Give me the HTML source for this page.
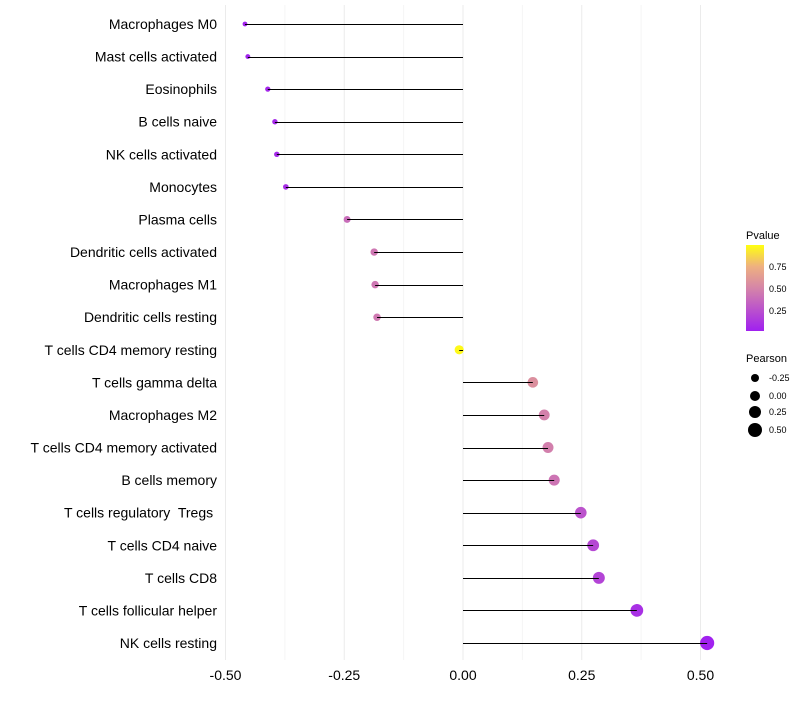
<!DOCTYPE html>
<html><head><meta charset="utf-8"><style>
body{margin:0;background:#fff;font-family:"Liberation Sans",sans-serif}
svg text{font-family:"Liberation Sans",sans-serif}
</style></head><body>
<svg id="chart" width="800" height="700" viewBox="0 0 800 700" xmlns="http://www.w3.org/2000/svg">
<defs><linearGradient id="pg" x1="0" y1="1" x2="0" y2="0">
<stop offset="0" stop-color="#a020f0"/><stop offset="0.5" stop-color="#d585a8"/><stop offset="0.75" stop-color="#eeb080"/><stop offset="1" stop-color="#ffff10"/></linearGradient></defs>
<g id="grid"></g>
<g id="marks"></g>
<g id="labels"></g>
<g>
<text x="746" y="239" font-size="11">Pvalue</text>
<rect x="746" y="245" width="18" height="86" fill="url(#pg)"/>
<text x="769" y="270" font-size="9">0.75</text>
<text x="769" y="292" font-size="9">0.50</text>
<text x="769" y="314" font-size="9">0.25</text>
</g>
<g>
<text x="746" y="362" font-size="11">Pearson</text>
<circle cx="755" cy="378" r="4" fill="#000"/>
<circle cx="755" cy="396" r="5" fill="#000"/>
<circle cx="755" cy="412" r="6" fill="#000"/>
<circle cx="755" cy="430" r="7" fill="#000"/>
<text x="769" y="381" font-size="9">-0.25</text>
<text x="769" y="399" font-size="9">0.00</text>
<text x="769" y="415" font-size="9">0.25</text>
<text x="769" y="433" font-size="9">0.50</text>
</g>
</svg>
<script>
const categories=["Macrophages M0","Mast cells activated","Eosinophils","B cells naive","NK cells activated","Monocytes","Plasma cells","Dendritic cells activated","Macrophages M1","Dendritic cells resting","T cells CD4 memory resting","T cells gamma delta","Macrophages M2","T cells CD4 memory activated","B cells memory","T cells regulatory  Tregs\u00a0","T cells CD4 naive","T cells CD8","T cells follicular helper","NK cells resting"];
const pearson=[-0.459,-0.453,-0.411,-0.396,-0.392,-0.373,-0.244,-0.187,-0.185,-0.181,-0.008,0.147,0.171,0.179,0.192,0.248,0.274,0.286,0.366,0.514];
const pvalues=[0.02,0.02,0.04,0.05,0.05,0.07,0.38,0.43,0.43,0.44,0.98,0.56,0.48,0.47,0.42,0.25,0.2,0.18,0.08,0.01];
const xTicks=[-0.5,-0.25,0,0.25,0.5];
const xTickLabels=["-0.50","-0.25","0.00","0.25","0.50"];
const NS="http://www.w3.org/2000/svg";
const x=v=>463+v*475;
const y=i=>24+i*(643-24)/19;
const rad=v=>2.4+(v+0.46)*4.8;
function lerp(a,b,t){return a.map((c,k)=>Math.round(c+(b[k]-c)*t));}
function col(p){const s=[[0,[160,32,240]],[0.5,[213,133,168]],[0.75,[238,176,128]],[1,[255,255,16]]];
for(let k=1;k<s.length;k++){if(p<=s[k][0]){const t=(p-s[k-1][0])/(s[k][0]-s[k-1][0]);return 'rgb('+lerp(s[k-1][1],s[k][1],t).join(',')+')';}}return 'rgb(255,255,16)';}
function mk(t,a,parent){const e=document.createElementNS(NS,t);for(const k in a)e.setAttribute(k,a[k]);parent.appendChild(e);return e;}
const grid=document.getElementById('grid'),marks=document.getElementById('marks'),labels=document.getElementById('labels');
for(let k=0;k<xTicks.length;k++){
 const g=mk('line',{x1:x(xTicks[k]),x2:x(xTicks[k]),y1:5,y2:660,stroke:'#ebebeb','stroke-width':1},grid);
 
 
 if(k<xTicks.length-1){const m=(xTicks[k]+xTicks[k+1])/2;
 const gm=mk('line',{x1:x(m),x2:x(m),y1:5,y2:660,stroke:'#f5f5f5','stroke-width':1},grid);
 
 }
 const t=mk('text',{x:x(xTicks[k]),y:680,'font-size':14,'text-anchor':'middle',fill:'#000'},labels);
 t.textContent=xTickLabels[k];
 
 
}
categories.forEach((c,i)=>{
 const t=mk('text',{x:217,y:y(i)+5,'font-size':14,'text-anchor':'end',fill:'#000'},labels);
 t.setAttribute('xml:space','preserve');
 t.style.whiteSpace='pre';
 t.textContent=c;
 
 
 const p=mk('circle',{cx:x(pearson[i]),cy:y(i),r:rad(pearson[i]),fill:col(pvalues[i])},marks);
 
 
});
categories.forEach((c,i)=>{
 const yy=Math.round(y(i))+0.5;
 const l=mk('line',{x1:x(0),x2:x(pearson[i]),y1:yy,y2:yy,stroke:'#000','stroke-width':1},marks);
 
 
});
</script>
</body></html>
